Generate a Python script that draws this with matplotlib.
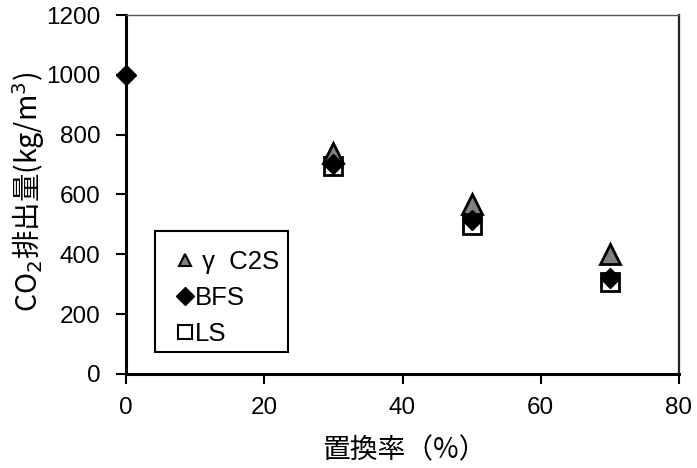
import matplotlib
matplotlib.use("Agg")
import matplotlib.pyplot as plt
from matplotlib.lines import Line2D
from matplotlib.patches import Rectangle

plt.rcParams['font.family'] = ['Liberation Sans', 'Noto Sans CJK JP', 'DejaVu Sans']
plt.rcParams['mathtext.fontset'] = 'dejavusans'

# Replacement ratio (%) and CO2 emission (kg/m3) for each admixture
c2s_x = [30, 50, 70]
c2s_y = [739, 569, 402]
bfs_x = [0, 30, 50, 70]
bfs_y = [1000, 702, 515, 322]
ls_x = [30, 50, 70]
ls_y = [696, 498, 307]

x_ticks = [0, 20, 40, 60, 80]
y_ticks = [0, 200, 400, 600, 800, 1000, 1200]

W, H = 697, 468
fig = plt.figure(figsize=(W / 100, H / 100), dpi=100)
ax_w, ax_h = 679 - 126, 374 - 15
ax = fig.add_axes([126 / W, 1 - 374 / H, ax_w / W, ax_h / H])

ax.plot(ls_x, ls_y, ls='none', marker='s', ms=12.5, mfc='white', mec='black', mew=2,
        zorder=3, clip_on=False)
ax.plot(c2s_x, c2s_y, ls='none', marker='^', ms=14, mfc='#808080', mec='black', mew=2,
        zorder=4, clip_on=False)
ax.plot(bfs_x, bfs_y, ls='none', marker='D', ms=10.5, mfc='black', mec='black', mew=1,
        zorder=5, clip_on=False)

ax.set_xlim(0, 80)
ax.set_ylim(0, 1200)
ax.set_xticks(x_ticks)
ax.set_yticks(y_ticks)
ax.tick_params(direction='out', length=7, width=1.5, labelsize=17.5)
ax.tick_params(axis='y', pad=11.5)
ax.tick_params(axis='x', pad=9.5)

for side in ['left', 'bottom']:
    ax.spines[side].set_linewidth(2.2)
    ax.spines[side].set_color('black')
ax.spines['right'].set_linewidth(1.6)
ax.spines['right'].set_color('#222222')
ax.spines['top'].set_linewidth(1.0)
ax.spines['top'].set_color('#555555')

fig.text(404 / W, 1 - 450 / H, '置換率（%）', fontsize=20, ha='center', va='center',
         family=['Noto Sans CJK JP', 'DejaVu Sans'])
fig.text(29 / W, 1 - 192 / H, 'CO$_2$排出量(kg/m$^3$)', fontsize=20.5, rotation=90,
         ha='center', va='center', family=['Noto Sans CJK JP'])

# Legend: entries without frame, boxed by a separate rectangle
handles = [
    Line2D([], [], ls='none', marker='^', ms=9, mfc='#808080', mec='black', mew=1.5),
    Line2D([], [], ls='none', marker='D', ms=9, mfc='black', mec='black'),
    Line2D([], [], ls='none', marker='s', ms=10, mfc='white', mec='black', mew=1.5),
]
labels = [' γ  C2S', 'BFS', 'LS']
leg = ax.legend(handles, labels, loc='upper left',
                bbox_to_anchor=((174.7 - 126) / ax_w, (374 - 250) / ax_h),
                fontsize=18.5, frameon=False,
                handlelength=0.8, handletextpad=0.0, borderpad=0, labelspacing=0.47,
                borderaxespad=0)
ax.add_patch(Rectangle(((155 - 126) / ax_w, (374 - 352) / ax_h),
                       (288 - 155) / ax_w, (352 - 231) / ax_h,
                       transform=ax.transAxes, facecolor='white', edgecolor='black',
                       linewidth=1.5, zorder=4.5))
leg.set_zorder(6)

fig.savefig('out.png', dpi=100)
